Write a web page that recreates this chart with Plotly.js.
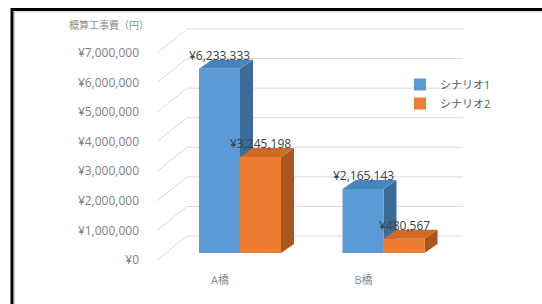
<!DOCTYPE html>
<html>
<head>
<meta charset="utf-8">
<script src="https://cdn.plot.ly/plotly-3.0.1.min.js"></script>
<style>html,body{margin:0;padding:0;background:#fff;}#chart{width:542px;height:304px;}</style>
</head>
<body>
<div id="chart"></div>
<script>
// ---- data ----
const categories = ['A橋', 'B橋'];
const seriesNames = ['シナリオ1', 'シナリオ2'];
const scenario1 = [6233333, 2165143];
const scenario2 = [3245198, 480567];
const yTickVals = [0, 1000000, 2000000, 3000000, 4000000, 5000000, 6000000, 7000000];
const yTickText = ['¥0', '¥1,000,000', '¥2,000,000', '¥3,000,000', '¥4,000,000', '¥5,000,000', '¥6,000,000', '¥7,000,000'];
const yTitleText = '概算工事費（円）';

// ---- styling / geometry ----
const W = 542, H = 304;
const PL = 150, PR = 475, PT = 22, PB = 272;      // plot area in pixels
const PX_X = 143.5, X0PX = 240;                   // px per category, pixel of first category
const PX_Y = 29.57 / 1e6, Y0PX = 260;             // px per yen, pixel of zero (front plane)
const xRange = [(PL - X0PX) / PX_X, (PR - X0PX) / PX_X];
const yRange = [-(PB - Y0PX) / PX_Y, (Y0PX - PT) / PX_Y];
const BW = 41 / PX_X;                             // bar width in units
const BASE = 7 / PX_Y;                            // bars sit slightly behind the front plane
const DX = 13 / PX_X, DY = 9 / PX_Y;              // bar depth
const WALL_DX0 = (157 - X0PX) / PX_X, WALL_DX1 = (187 - X0PX) / PX_X, WALL_END = (463 - X0PX) / PX_X;
const WALL_DY = 24 / PX_Y;
const LABEL_SHIFT = 20 / PX_X;

const FONT = '"Open Sans", "Noto Sans CJK JP", sans-serif';
const colors = {
  front: ['#5b9bd5', '#ed7d31'],
  side: ['#3a6b99', '#ab561e'],
  top: ['#4a84bd', '#cf6a27']
};
const series = [scenario1, scenario2];
const offsets = [-BW, 0];

const catIdx = categories.map((c, i) => i);

const traces = series.map((vals, s) => ({
  type: 'bar',
  name: seriesNames[s],
  x: catIdx,
  y: vals,
  base: vals.map(() => BASE),
  width: BW,
  offset: offsets[s],
  marker: { color: colors.front[s], line: { width: 0 } },
  hoverinfo: 'skip'
}));

const shapes = [];
// wall/floor gridlines
yTickVals.forEach(v => {
  const lc = { color: '#d9d9d9', width: 1 };
  shapes.push({ type: 'line', xref: 'x', yref: 'y', layer: 'below',
    x0: WALL_DX0, y0: v, x1: WALL_DX1, y1: v + WALL_DY, line: lc });
  shapes.push({ type: 'line', xref: 'x', yref: 'y', layer: 'below',
    x0: WALL_DX1, y0: v + WALL_DY, x1: WALL_END, y1: v + WALL_DY, line: lc });
});
// 3D side and top faces
catIdx.forEach(i => {
  series.forEach((vals, s) => {
    const x0 = i + offsets[s], x1 = x0 + BW;
    const yb = BASE, yt = BASE + vals[i];
    shapes.push({ type: 'path', xref: 'x', yref: 'y', layer: 'below',
      path: `M${x1},${yb} L${x1 + DX},${yb + DY} L${x1 + DX},${yt + DY} L${x1},${yt} Z`,
      fillcolor: colors.side[s], line: { width: 0 } });
    shapes.push({ type: 'path', xref: 'x', yref: 'y', layer: 'below',
      path: `M${x0},${yt} L${x1},${yt} L${x1 + DX},${yt + DY} L${x0 + DX},${yt + DY} Z`,
      fillcolor: colors.top[s], line: { width: 0 } });
  });
});
// outer frame
const px2paperX = p => (p - PL) / (PR - PL);
const px2paperY = p => (PB - p) / (PB - PT);
shapes.push({ type: 'rect', xref: 'paper', yref: 'paper',
  x0: px2paperX(12), y0: px2paperY(330), x1: px2paperX(570), y1: px2paperY(9.5),
  line: { color: '#000', width: 3 }, fillcolor: 'rgba(0,0,0,0)' });
shapes.push({ type: 'rect', xref: 'paper', yref: 'paper',
  x0: px2paperX(14.5), y0: px2paperY(330), x1: px2paperX(570), y1: px2paperY(12),
  line: { color: '#cfcfcf', width: 1 }, fillcolor: 'rgba(0,0,0,0)' });

const fmt = v => '¥' + v.toLocaleString('en-US');
const annotations = [];
catIdx.forEach(i => {
  series.forEach((vals, s) => {
    annotations.push({
      xref: 'x', yref: 'y', x: i + offsets[s] + BW / 2, y: BASE + vals[i],
      text: fmt(vals[i]), showarrow: false, yanchor: 'bottom', yshift: 3,
      font: { family: FONT, size: 12, color: '#404040' }
    });
  });
});
annotations.push({
  xref: 'paper', yref: 'paper', x: px2paperX(109), y: px2paperY(25),
  xanchor: 'center', yanchor: 'middle', text: yTitleText, showarrow: false,
  font: { family: FONT, size: 10, color: '#8c8c8c' }
});

const layout = {
  width: W, height: H,
  margin: { l: PL, r: W - PR, t: PT, b: H - PB, pad: 0 },
  paper_bgcolor: '#fff', plot_bgcolor: 'rgba(0,0,0,0)',
  barmode: 'overlay',
  showlegend: true,
  legend: {
    x: px2paperX(400), y: px2paperY(70), xanchor: 'left', yanchor: 'top',
    bgcolor: 'rgba(0,0,0,0)', font: { family: FONT, size: 11, color: '#595959' },
    itemwidth: 30, tracegroupgap: 0
  },
  xaxis: {
    range: xRange, tickvals: catIdx.map(i => i - LABEL_SHIFT), ticktext: categories,
    showgrid: false, zeroline: false, showline: false, ticks: '',
    tickfont: { family: FONT, size: 11, color: '#8c8c8c' }, fixedrange: true
  },
  yaxis: {
    range: yRange, tickvals: yTickVals, ticktext: yTickText,
    showgrid: false, zeroline: false, showline: false, ticks: '',
    ticklabelstandoff: 10,
    tickfont: { family: FONT, size: 12, color: '#7f7f7f' }, fixedrange: true
  },
  shapes: shapes,
  annotations: annotations
};

Plotly.newPlot('chart', traces, layout, { displayModeBar: false, staticPlot: true });
</script>
</body>
</html>
